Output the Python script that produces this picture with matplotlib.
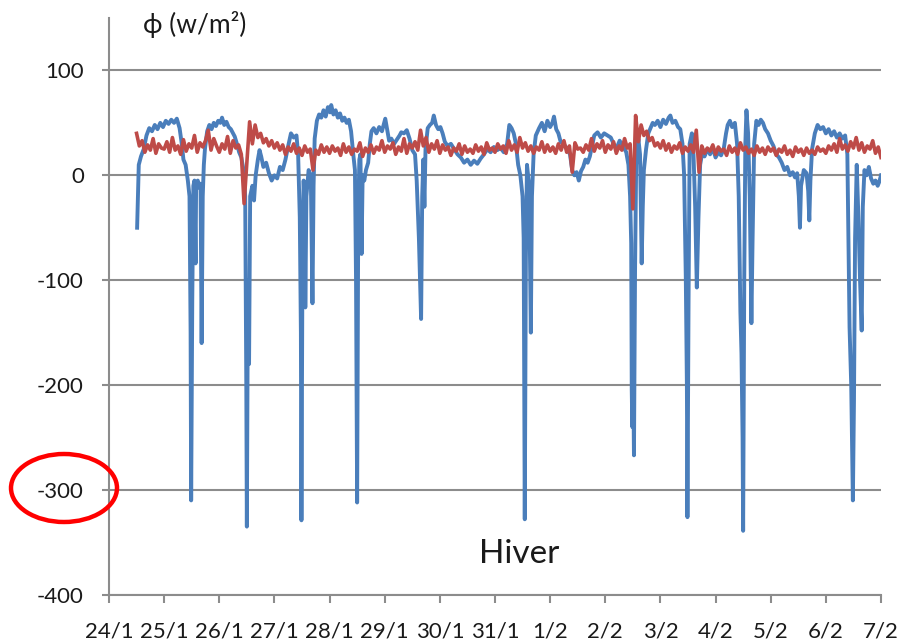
"""
Flux thermique en hiver : deux séries sur 24/1 - 7/2, style Excel.
Sortie : out.png (906 x 643 px).
"""

import numpy as np
import matplotlib
matplotlib.use("Agg")
import matplotlib.pyplot as plt
from matplotlib.patches import Ellipse

OUT_FILE = "out.png"

# ── Données ─────────────────────────────────────────────────────────────────

DAY_LABELS = ["24/1", "25/1", "26/1", "27/1", "28/1", "29/1", "30/1", "31/1",
              "1/2", "2/2", "3/2", "4/2", "5/2", "6/2", "7/2"]

Y_TICKS = [-400, -300, -200, -100, 0, 100]

# série bleue : jours depuis le 24/1 à 0h, flux en W/m²
blue_days = [
    0.51, 0.54, 0.58, 0.63, 0.68, 0.73, 0.78, 0.83, 0.88, 0.93,
    0.98, 1.03, 1.08, 1.13, 1.18, 1.23, 1.28, 1.32, 1.35, 1.39,
    1.43, 1.46, 1.48, 1.49, 1.51, 1.53, 1.55, 1.57, 1.58, 1.61,
    1.64, 1.66, 1.68, 1.70, 1.72,
    1.74, 1.78, 1.82, 1.86, 1.90, 1.94, 1.98, 2.02, 2.05, 2.09,
    2.13, 2.17, 2.21, 2.25, 2.28, 2.32, 2.36, 2.40, 2.44, 2.47,
    2.49, 2.50, 2.52, 2.54, 2.56, 2.60, 2.63, 2.66, 2.70,
    2.73, 2.76, 2.80, 2.85, 2.90, 2.95, 3.00, 3.05, 3.10, 3.15,
    3.20, 3.25, 3.30, 3.35, 3.40, 3.43, 3.46, 3.48, 3.49, 3.51,
    3.53, 3.55, 3.56, 3.58, 3.62, 3.66, 3.69, 3.71,
    3.73, 3.77, 3.81, 3.85, 3.89, 3.93, 3.97, 4.01, 4.03, 4.07,
    4.11, 4.15, 4.19, 4.23, 4.27, 4.31, 4.35, 4.39, 4.43, 4.46,
    4.48, 4.50, 4.52, 4.54, 4.56, 4.58, 4.60, 4.63, 4.66, 4.70,
    4.73, 4.76, 4.80, 4.85, 4.90, 4.95, 5.01, 5.04, 5.08, 5.12,
    5.17, 5.22, 5.27, 5.30, 5.35, 5.40, 5.45, 5.50, 5.55, 5.58,
    5.62, 5.66, 5.68, 5.70, 5.72, 5.74,
    5.78, 5.82, 5.86, 5.89, 5.93, 5.97, 6.01, 6.05, 6.09, 6.14,
    6.20, 6.26, 6.32, 6.38, 6.44, 6.50, 6.56, 6.62, 6.68, 6.74,
    6.80, 6.86, 6.92, 6.98, 7.04, 7.10, 7.16, 7.22, 7.26, 7.30,
    7.34, 7.38, 7.42,
    7.46, 7.50, 7.52, 7.54, 7.56, 7.58, 7.62, 7.65, 7.67, 7.70,
    7.74, 7.80, 7.85, 7.90, 7.95, 8.00, 8.04, 8.07, 8.11, 8.15,
    8.19, 8.24, 8.30, 8.36,
    8.40, 8.44, 8.48, 8.52, 8.56, 8.60, 8.64, 8.68, 8.72, 8.76,
    8.80, 8.86, 8.92, 8.98, 9.04, 9.10, 9.15, 9.20, 9.26, 9.32,
    9.38, 9.42,
    9.45, 9.47, 9.48, 9.49, 9.50, 9.52, 9.54, 9.56, 9.60, 9.63,
    9.66, 9.68, 9.70, 9.74, 9.78, 9.82, 9.86, 9.90, 9.95, 10.00,
    10.05, 10.10, 10.15, 10.18, 10.22, 10.27, 10.32, 10.36, 10.40, 10.43,
    10.46, 10.48, 10.49, 10.51, 10.53, 10.57, 10.60, 10.63, 10.66, 10.69,
    10.72, 10.76, 10.80, 10.85, 10.90, 10.95, 11.00, 11.05, 11.10, 11.15,
    11.19, 11.22, 11.26, 11.30, 11.35, 11.39, 11.42,
    11.45, 11.47, 11.49, 11.50, 11.52, 11.54, 11.56, 11.59, 11.62, 11.65,
    11.67, 11.70, 11.74, 11.78, 11.82, 11.86, 11.90, 11.95, 12.00, 12.05,
    12.10, 12.15, 12.20, 12.25, 12.30, 12.35, 12.40, 12.44, 12.48, 12.51,
    12.53, 12.55, 12.60, 12.65, 12.68, 12.70, 12.72, 12.75,
    12.80, 12.85, 12.90, 12.95, 13.00, 13.05, 13.10, 13.15, 13.20, 13.25,
    13.30, 13.35, 13.39, 13.41, 13.43, 13.46, 13.48, 13.49, 13.51, 13.53,
    13.56, 13.59, 13.62, 13.65, 13.67, 13.70, 13.74, 13.78, 13.82, 13.86,
    13.90, 13.94, 13.97, 14.00,
]

blue_flux = [
    -50, 10, 18, 25, 38, 45, 42, 48, 44, 50,
    46, 52, 49, 53, 50, 54, 45, 30, 15, 10,
    -5, -20, -150, -310, -120, -10, -5, -84, -10, -5,
    -12, -8, -160, -20, 10,
    25, 42, 48, 44, 50, 47, 52, 50, 55, 48,
    51, 46, 44, 40, 37, 30, 22, 17, 5, -20,
    -200, -335, -100, -180, -20, -10, -24, 0, 15,
    24, 18, 8, 12, 2, -5, 0, -3, 8, 5,
    15, 28, 40, 36, 38, 20, -40, -150, -329, -60,
    -5, -30, -126, -20, 5, 0, -122, -10,
    35, 52, 58, 55, 62, 56, 65, 60, 67, 58,
    62, 55, 59, 52, 55, 50, 53, 42, 20, 5,
    -100, -312, -40, 15, 20, -75, 0, -5, 5, 12,
    30, 42, 45, 40, 46, 42, 54, 45, 33, 35,
    30, 34, 38, 41, 40, 43, 35, 24, 20, -5,
    -60, -137, -20, 15, -30, 25,
    45, 48, 50, 57, 48, 44, 46, 40, 32, 28,
    30, 25, 20, 17, 12, 15, 10, 14, 11, 16,
    20, 25, 22, 27, 24, 26, 22, 30, 48, 45,
    40, 30, 10,
    0, -20, -60, -328, -80, 10, -10, -150, -20, 20,
    38, 45, 50, 42, 52, 46, 50, 56, 44, 40,
    32, 30, 26, 20,
    5, 0, 3, -5, 4, 8, 15, 12, 18, 28,
    38, 41, 36, 40, 38, 36, 30, 25, 33, 28,
    22, 10,
    -20, -65, -205, -240, -150, -267, -90, 10, 35, 20,
    -84, -30, 5, 25, 40, 45, 50, 48, 52, 46,
    53, 49, 55, 57, 50, 52, 46, 44, 30, 0,
    -97, -200, -326, -120, 30, 40, 20, -30, -107, -40,
    10, 22, 18, 25, 20, 26, 17, 22, 19, 26,
    40, 48, 52, 46, 50, 30, -20,
    -130, -170, -250, -339, -100, 30, 62, 40, -20, -141,
    -65, 30, 52, 48, 53, 50, 44, 40, 33, 28,
    20, 17, 12, 5, 8, 0, 3, -2, 2, -20,
    -50, -10, 5, 2, -15, -43, -5, 25,
    40, 48, 44, 46, 40, 44, 38, 42, 36, 40,
    35, 38, 20, -60, -145, -200, -270, -310, -215, -60,
    10, -40, -100, -148, -30, 5, 0, 8, -3, -8,
    -5, -10, -6, 0,
]

# série rouge : un relevé toutes les 0.05 j à partir de 0.50 j
RED_START = 0.50
RED_STEP = 0.05
red_flux = [
    40, 28, 33, 22, 29, 24, 35, 21, 30, 26,                                   # 24/1
    25, 32, 22, 36, 24, 28, 20, 34, 23, 30, 26, 38, 22, 31, 27, 33, 43, 24, 35, 28,
    22, 30, 25, 37, 21, 33, 26, 29, 20, -27, 12, 51, 30, 48, 36, 40, 31, 35, 28, 33,
    26, 31, 24, 29, 20, 27, 23, 30, 21, 26, 19, 28, 22, 25, 5, 24, 20, 29, 22, 27,
    21, 28, 23, 26, 19, 30, 22, 27, 20, 25, 23, 31, 18, 26, 22, 29, 21, 27, 24, 33,
    22, 28, 25, 31, 20, 27, 23, 35, 21, 30, 26, 32, 24, 43, 28, 36, 22, 30, 25, 33,
    21, 29, 24, 27, 19, 26, 23, 30, 20, 28, 22, 25, 21, 29, 23, 27, 20, 31, 24, 26,
    22, 30, 25, 28, 21, 33, 24, 29, 22, 36, 26, 31, 23, 28, 21, 27, 24, 32, 22, 29,
    23, 27, 21, 30, 24, 33, 22, 28, 3, 31, 25, 26, 22, 29, 24, 35, 23, 30, 26, 33,
    22, 29, 25, 32, 21, 28, 24, 35, 26, 30, -32, 57, 32, 48, 38, 42, 33, 36, 28, 31,
    26, 33, 24, 30, 22, 28, 25, 31, 21, 27, 23, 29, 22, 43, 3, 28, 21, 26, 23, 29,
    20, 27, 23, 25, 19, 28, 22, 26, 20, 31, 24, 27, 21, 25, 19, 28, 22, 26, 20, 27,
    23, 26, 19, 25, 22, 28, 20, 24, 18, 27, 22, 25, 19, 26, 21, 24, 20, 27, 23, 25,
    21, 28, 24, 30, 22, 35, 25, 29, 23, 32, 26, 36, 24, 31, 22, 28, 25, 33, 21, 27,
    17,
]

BLUE = "#4a7ebb"
RED = "#be4b48"
GRID = "#8c8c8c"
TEXT = "#1a1a1a"


# ── Tracé ───────────────────────────────────────────────────────────────────

def plot_flux():
    assert len(blue_days) == len(blue_flux)
    red_days = RED_START + RED_STEP * np.arange(len(red_flux))

    plt.rcParams["font.family"] = ["Lato", "DejaVu Sans"]
    plt.rcParams["axes.unicode_minus"] = False
    fig = plt.figure(figsize=(9.06, 6.43), dpi=100)
    ax = fig.add_axes([0.1203, 0.075, 0.8521, 0.897])

    ax.plot(blue_days, blue_flux, color=BLUE, lw=2.8, zorder=3,
            solid_joinstyle="round")
    ax.plot(red_days, red_flux, color=RED, lw=2.6, zorder=4,
            solid_joinstyle="round")

    ax.set_xlim(0, 14)
    ax.set_ylim(-400, 150)
    ax.set_xticks(np.arange(len(DAY_LABELS)))
    ax.set_xticklabels(DAY_LABELS)
    ax.set_yticks(Y_TICKS)

    ax.grid(axis="y", color=GRID, lw=1.5, zorder=1)
    for side in ("top", "right"):
        ax.spines[side].set_visible(False)
    for side in ("left", "bottom"):
        ax.spines[side].set_color(GRID)
        ax.spines[side].set_linewidth(1.5)
    ax.tick_params(axis="both", colors=GRID, width=1.5,
                   labelsize=16, labelcolor=TEXT)
    ax.tick_params(axis="x", length=6, pad=13)
    ax.tick_params(axis="y", length=5, pad=13)

    ax.text(7.44, -361, "Hiver", fontsize=24, color=TEXT,
            ha="center", va="center", zorder=5)
    fig.text(195 / 906, 1 - 25 / 643, "ϕ (w/m²)", fontsize=19, color=TEXT,
             ha="center", va="center")

    # repère rouge autour de la graduation -300
    ring = Ellipse((64 / 906, 1 - 488 / 643), 106 / 906, 68 / 643,
                   transform=fig.transFigure, fill=False,
                   edgecolor="#ff0000", lw=3.2, zorder=10)
    fig.patches.append(ring)

    fig.savefig(OUT_FILE, dpi=100)
    plt.close(fig)


if __name__ == "__main__":
    plot_flux()
